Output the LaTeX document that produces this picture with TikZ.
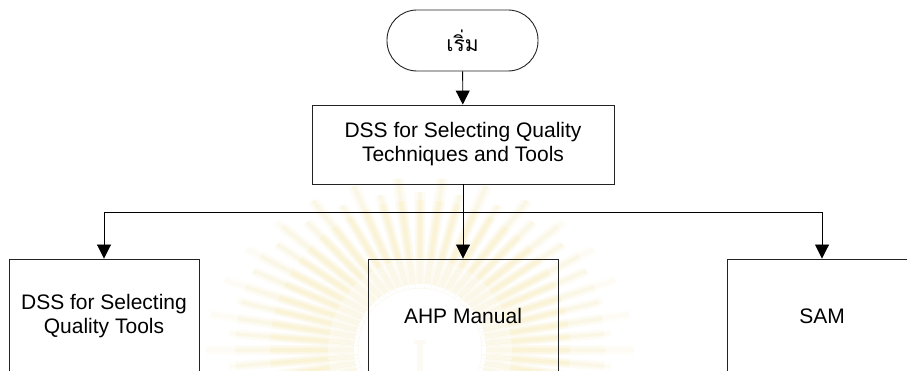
\documentclass[tikz,border=0pt]{standalone}
\usepackage{fontspec}
\setmainfont{Liberation Sans}
\newfontfamily\thaifont[Script=Thai]{Loma}
\usetikzlibrary{arrows.meta}

\definecolor{edge}{RGB}{35,35,35}
\definecolor{rayIn}{RGB}{251,247,231}
\definecolor{rayCore}{RGB}{249,241,210}
\definecolor{rayOut}{RGB}{251,246,228}
\definecolor{rayTip}{RGB}{253,251,243}
\definecolor{pillar}{RGB}{252,250,242}

% one layer of rays: #1 half-angle at the base, #2 half-angle at the tip,
% #3 strength of the colour (percent mixed with white)
\newcommand\emblemrays[3]{%
  \begin{scope}
    \clip
      \foreach \a in {-24,-12,...,204} {
        ({420+62*cos(\a-#1)},{350-62*sin(\a-#1)}) --
        ({420+214*cos(\a-#2)},{350-172*sin(\a-#2)}) --
        ({420+214*cos(\a+#2)},{350-172*sin(\a+#2)}) --
        ({420+62*cos(\a+#1)},{350-62*sin(\a+#1)}) -- cycle }
      \foreach \a in {-18,-6,...,210} {
        ({420+62*cos(\a-#1)},{350-62*sin(\a-#1)}) --
        ({420+192*cos(\a-#2)},{350-158*sin(\a-#2)}) --
        ({420+192*cos(\a+#2)},{350-158*sin(\a+#2)}) --
        ({420+62*cos(\a+#1)},{350-62*sin(\a+#1)}) -- cycle };
    \fill[rayTip!#3!white]  (420,350) circle (230);
    \fill[rayOut!#3!white]  (420,350) circle (185);
    \fill[rayCore!#3!white] (420,350) circle (150);
    \fill[rayIn!#3!white]   (420,350) circle (92);
    \fill[white]            (420,350) circle (66);
  \end{scope}}

\begin{document}
\begin{tikzpicture}[x=1pt,y=-1pt,
  txt/.style={font=\fontsize{21}{24}\selectfont},
  term/.style={txt, draw=edge, line width=0.9pt, rounded corners=30pt,
    minimum width=151pt, minimum height=61pt, inner sep=0pt},
  box/.style={txt, draw=edge, line width=0.9pt, align=center, inner sep=0pt,
    minimum width=190pt, minimum height=114pt},
  arr/.style={draw=black, line width=0.9pt,
    -{Triangle[length=14pt,width=14pt]}}
]
\useasboundingbox (0,0) rectangle (907,371);
\clip (0,0) rectangle (907,371);

% faint emblem in the background, built from soft nested rays
\emblemrays{4.4}{1.6}{30}
\emblemrays{3.2}{1.0}{60}
\emblemrays{1.8}{0.5}{90}
\fill[pillar] (414,340) rectangle (426,344);
\fill[pillar] (417,344) rectangle (423,371);

% flowchart
\node[term] (start) at (462.5,40.5) {\thaifont เริ่ม};
\node[box, minimum width=302pt, minimum height=79pt] (main) at (463,144.5)
  {DSS for Selecting Quality\\Techniques and Tools};
\node[box] (tools) at (104,316) {DSS for Selecting\\Quality Tools};
\node[box] (ahp) at (463,316) {AHP Manual};
\node[box] (sam) at (822,316) {SAM};

\coordinate (split) at (463,212);

\draw[arr] (start) -- (main);
\draw[arr] (main.south) -- (ahp.north);
\draw[arr] (split) -| (tools.north);
\draw[arr] (split) -| (sam.north);
\end{tikzpicture}
\end{document}
